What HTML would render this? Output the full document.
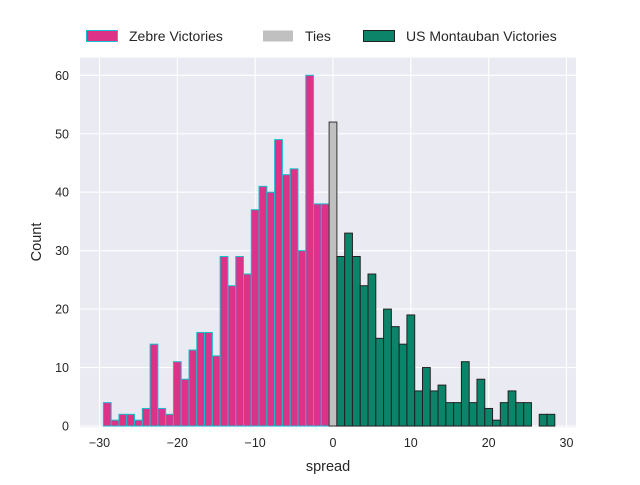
<!DOCTYPE html>
<html><head><meta charset="utf-8"><style>
body{margin:0;background:#fff;font-family:"Liberation Sans","DejaVu Sans",sans-serif}
</style></head><body>
<svg id="chart" width="640" height="480" xmlns="http://www.w3.org/2000/svg" font-family="Liberation Sans, DejaVu Sans, sans-serif">
<rect width="640" height="480" fill="#fff"/>
<rect x="80" y="57.6" width="496" height="369.6" fill="#eaeaf2"/>
<g id="grid"></g><g id="bars"></g><g id="ticks"></g>
<text x="328" y="471" text-anchor="middle" font-size="14.5" fill="#262626">spread</text>
<text transform="translate(41,242) rotate(-90)" text-anchor="middle" font-size="14.5" fill="#262626">Count</text>
<g>
<rect x="86.5" y="30.5" width="31" height="11" fill="#dc3287" stroke="#17becf" stroke-width="1"/>
<text x="129" y="41" font-size="14" fill="#262626">Zebre Victories</text>
<rect x="263" y="30.5" width="30" height="11" fill="#c0c0c0"/>
<text x="305" y="41" font-size="14" fill="#262626">Ties</text>
<rect x="363.5" y="30.5" width="31" height="11" fill="#0b846a" stroke="#222" stroke-width="1"/>
<text x="406" y="41" font-size="14" fill="#262626">US Montauban Victories</text>
</g>
</svg>
<script>
const zebreCenters = [-29,-28,-27,-26,-25,-24,-23,-22,-21,-20,-19,-18,-17,-16,-15,-14,-13,-12,-11,-10,-9,-8,-7,-6,-5,-4,-3,-2,-1];
const zebreCounts = [4,1,2,2,1,3,14,3,2,11,8,13,16,16,12,29,24,29,26,37,41,40,49,43,44,30,60,38,38];
const tieCenters = [0];
const tieCounts = [52];
const montCenters = [1,2,3,4,5,6,7,8,9,10,11,12,13,14,15,16,17,18,19,20,21,22,23,24,25,26,27,28];
const montCounts = [29,33,29,24,26,15,20,17,14,19,6,10,6,7,4,4,11,4,8,3,1,4,6,4,4,0,2,2];
const xTicks = [-30,-20,-10,0,10,20,30];
const yTicks = [0,10,20,30,40,50,60];
const NS="http://www.w3.org/2000/svg";
const xs = v => 99.5 + (v+30)*7.783;
const ys = v => 426 - v*5.845;
const grid=document.getElementById('grid'), bars=document.getElementById('bars'), ticks=document.getElementById('ticks');
function mk(tag,attrs,parent){const e=document.createElementNS(NS,tag);for(const k in attrs)e.setAttribute(k,attrs[k]);parent.appendChild(e);return e;}
xTicks.forEach(t=>{
  const l=mk('line',{x1:xs(t),x2:xs(t),y1:57.6,y2:427.2,stroke:'#fff','stroke-width':1.1},grid);
  
  
  const tx=mk('text',{x:xs(t),y:447,'text-anchor':'middle','font-size':12.5,fill:'#262626'},ticks);
  tx.textContent=t===0?'0':(t<0?'\u2212'+(-t):String(t));
  
  
});
yTicks.forEach(t=>{
  const l=mk('line',{x1:80,x2:576,y1:ys(t),y2:ys(t),stroke:'#fff','stroke-width':1.1},grid);
  
  
  const tx=mk('text',{x:69,y:ys(t)+4.5,'text-anchor':'end','font-size':12.5,fill:'#262626'},ticks);
  tx.textContent=String(t);
  
  
});
function drawSeries(centers,counts,fill,stroke,name){
  centers.forEach((c,i)=>{
    if(!counts[i])return;
    const x0=xs(c-0.5), x1=xs(c+0.5);
    const r=mk('rect',{x:x0,y:ys(counts[i]),width:x1-x0,height:ys(0)-ys(counts[i]),fill:fill,stroke:stroke,'stroke-width':1},bars);
    
    
  });
}
drawSeries(zebreCenters,zebreCounts,'#dc3287','#17becf','bar-zebre');
drawSeries(tieCenters,tieCounts,'#c0c0c0','#333','bar-ties');
drawSeries(montCenters,montCounts,'#0b846a','#222','bar-montauban');
</script>
</body></html>
